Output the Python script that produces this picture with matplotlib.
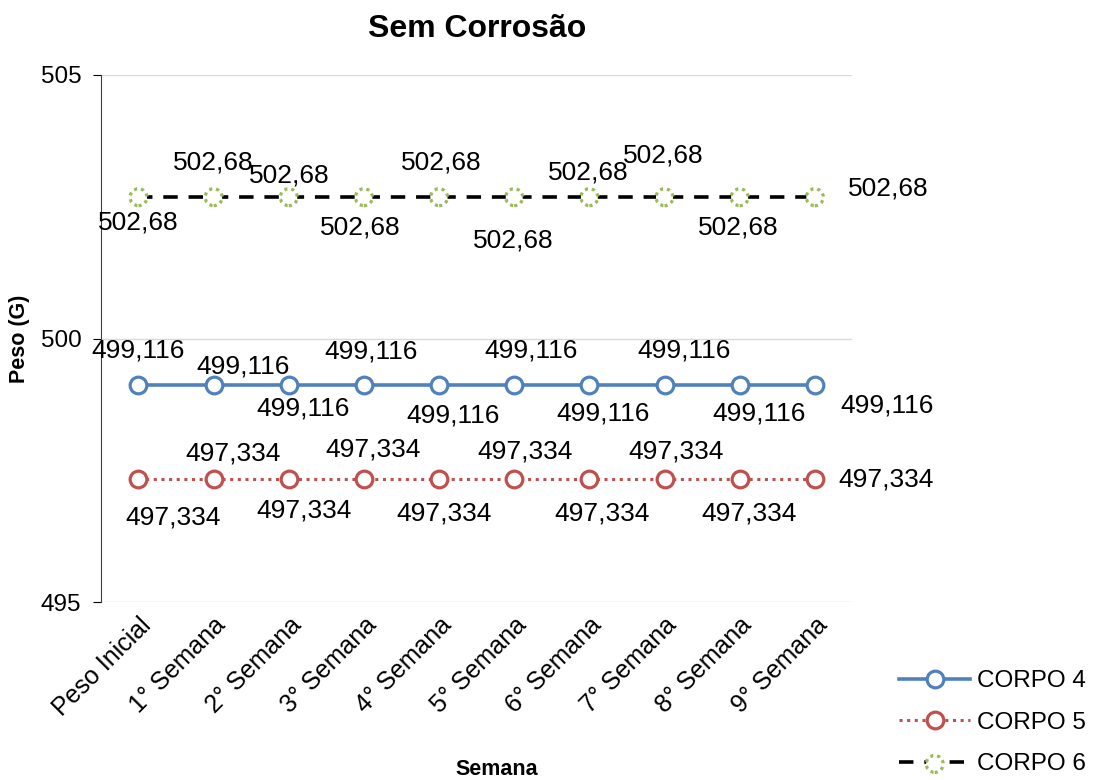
import matplotlib.pyplot as plt
from matplotlib.legend_handler import HandlerTuple

plt.rcParams['font.family'] = ['Liberation Sans', 'DejaVu Sans']

semanas = ["Peso Inicial", "1° Semana", "2° Semana", "3° Semana", "4° Semana",
           "5° Semana", "6° Semana", "7° Semana", "8° Semana", "9° Semana"]
corpo4 = [499.116] * 10
corpo5 = [497.334] * 10
corpo6 = [502.68] * 10

# label offsets in pixels (dx, dy), as placed in the original
off4 = [(0, 35), (29, 19), (14, -23), (7, 34), (14, -30),
        (17, 35), (14, -28), (20, 35), (19, -28), (72, -20)]
off5 = [(35, -38), (19, 26), (15, -31), (9, 30), (5, -34),
        (11, 28), (13, -34), (12, 28), (9, -34), (71, 0)]
off6 = [(0, -25), (0, 35), (0, 22), (-4, -30), (2, 35),
        (-1, -43), (-1, 25), (-1, 42), (-1, -30), (73, 9)]

fig = plt.figure(figsize=(10.97, 7.8), dpi=100)
ax = fig.add_axes([0.092, 0.228, 0.685, 0.676])
x = range(len(semanas))

l4, = ax.plot(x, corpo4, color="#4F81BD", lw=2.6, marker="o", ms=12,
              mfc="white", mec="#4F81BD", mew=2.3, label="CORPO 4", zorder=3)
l5, = ax.plot(x, corpo5, color="#C0504D", lw=2.2, ls=(0, (1, 1.5)), marker="o", ms=12,
              mfc="white", mec="#C0504D", mew=2.3, label="CORPO 5", zorder=3)
l6, = ax.plot(x, corpo6, color="black", lw=2.6, ls=(0, (4, 3)), zorder=3)
s6 = ax.scatter(x, corpo6, s=150, facecolors="white", edgecolors="#9BBB59",
                linewidths=2.3, linestyles=(0, (1, 1.2)), zorder=4)

for series, offs in ((corpo4, off4), (corpo5, off5), (corpo6, off6)):
    for i, (v, (dx, dy)) in enumerate(zip(series, offs)):
        txt = f"{v:g}".replace(".", ",")
        ax.annotate(txt, (i, v), xytext=(dx, dy), textcoords="offset pixels",
                    ha="center", va="center", fontsize=19, annotation_clip=False)

ax.set_xlim(-0.5, 9.5)
ax.set_ylim(495, 505)
ax.set_yticks([495, 500, 505])
ax.tick_params(axis="y", labelsize=17.5, length=6, pad=8, direction="out", color="black")
ax.set_xticks(list(x))
ax.set_xticklabels(semanas, rotation=45, ha="right", rotation_mode="anchor", fontsize=18)
ax.tick_params(axis="x", length=0, pad=8)
ax.grid(axis="y", color="#D9D9D9", lw=1)
ax.set_axisbelow(True)
for sp in ("top", "right", "bottom"):
    ax.spines[sp].set_visible(False)
ax.spines["left"].set_color("#404040")

ax.set_title("Sem Corrosão", fontsize=23, fontweight="bold", pad=27)
ax.set_ylabel("Peso (G)", fontsize=15.5, fontweight="bold", labelpad=8)
fig.text(0.453, 0.0, "Semana", fontsize=15.5, fontweight="bold", ha="center", va="bottom")

fig.legend([l4, l5, (l6, s6)], ["CORPO 4", "CORPO 5", "CORPO 6"],
           handler_map={tuple: HandlerTuple(ndivide=1)},
           loc="lower right", bbox_to_anchor=(1.01, -0.022), frameon=False,
           fontsize=17.5, handlelength=2.9, labelspacing=0.8, handletextpad=0.3)

fig.savefig("out.png", dpi=100)
